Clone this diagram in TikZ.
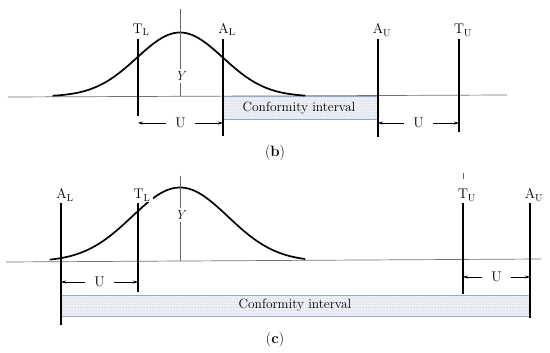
\documentclass[tikz,border=0pt]{standalone}
\usepackage{amsmath,amssymb}
\usepackage{tikz}
\usepackage[dvipsnames]{xcolor}
\usetikzlibrary{arrows.meta,patterns}

\begin{document}
\begin{tikzpicture}[x=1pt,y=-1pt,
  axisline/.style={draw=axisColor,line width=0.7pt},
  meanline/.style={draw=meanColor,line width=0.5pt},
  tolline/.style={draw=black,line width=1.1pt},
  accline/.style={draw=black,line width=1.8pt},
  bell/.style={draw=black,line width=1.7pt,line join=round,line cap=round},
  band/.style={draw=bandDraw,line width=0.6pt,fill=bandFill},
  bandtext/.style={font=\fontsize{13.4}{15}\selectfont},
  dimline/.style={draw=black,line width=0.5pt,{Stealth[length=5pt,width=3pt]}-{Stealth[length=5pt,width=3pt]}},
  lbl/.style={inner sep=0.5pt,anchor=base,font=\fontsize{14}{16}\selectfont},
  ulbl/.style={fill=white,inner xsep=9pt,inner ysep=1pt,font=\fontsize{14}{16}\selectfont},
  ylbl/.style={fill=white,inner sep=3pt,font=\fontsize{13}{15}\selectfont\itshape},
  tag/.style={font=\fontsize{15}{17}\selectfont}]
\definecolor{axisColor}{gray}{0.45}
\definecolor{meanColor}{gray}{0.40}
\definecolor{bandDraw}{RGB}{150,168,196}
\definecolor{bandFill}{RGB}{236,240,246}
\definecolor{bandDot}{RGB}{178,186,200}
\path[use as bounding box,fill=white] (0,0) rectangle (550,353);

% ---- panel (b)
\coordinate (axb w) at (8,97);
\coordinate (axb e) at (507,95);
\draw[axisline] (axb w) -- (axb e);

\path[band] (223,96) rectangle (378,119);
\path[pattern=dots,pattern color=bandDot] (223,96) rectangle (378,119);
\node[bandtext] (confb) at (299,108) {Conformity interval};

\draw[bell] plot[domain=-2.95:2.9,samples=80] ({180+43*\x},{96.5-64*exp(-0.5*\x*\x)});

\coordinate (meanb top) at (180,9);
\coordinate (meanb bot) at (180,96);
\draw[meanline] (meanb top) -- (meanb bot);
\node[ylbl] (yb) at (180,76) {Y};

\coordinate (tlb top) at (138,39);   \coordinate (tlb bot) at (138,116);
\coordinate (alb top) at (223,39);   \coordinate (alb bot) at (223,136);
\coordinate (aub top) at (378,39);   \coordinate (aub bot) at (378,137);
\coordinate (tub top) at (459,39);   \coordinate (tub bot) at (459,132);
\draw[tolline] (tlb top) -- (tlb bot);
\draw[accline] (alb top) -- (alb bot);
\draw[accline] (aub top) -- (aub bot);
\draw[tolline] (tub top) -- (tub bot);
\node[lbl] (tlb) at ([xshift=3pt,yshift=5.5pt]tlb top) {T$_\mathrm{L}$};
\node[lbl] (alb) at ([xshift=4pt,yshift=5.5pt]alb top) {A$_\mathrm{L}$};
\node[lbl] (aub) at ([xshift=4pt,yshift=5pt]aub top) {A$_\mathrm{U}$};
\node[lbl] (tub) at ([xshift=4pt,yshift=5pt]tub top) {T$_\mathrm{U}$};

\coordinate (ub1 w) at (138,123);  \coordinate (ub1 e) at (223,123);
\coordinate (ub2 w) at (378,123);  \coordinate (ub2 e) at (459,123);
\draw[dimline] (ub1 w) -- (ub1 e) node[ulbl,midway] (ub1) {U};
\draw[dimline] (ub2 w) -- (ub2 e) node[ulbl,midway] (ub2) {U};

\node[tag] (tagb) at (275,153) {(\textbf{b})};

% ---- panel (c)
\coordinate (axc w) at (6,262);
\coordinate (axc e) at (541,259);
\draw[axisline] (axc w) -- (axc e);

\path[band] (61,295) rectangle (529,316);
\path[pattern=dots,pattern color=bandDot] (61,295) rectangle (529,316);
\node[bandtext] (confc) at (295,305.5) {Conformity interval};

\draw[bell] plot[domain=-2.7:2.6,samples=80] ({180+48*\x},{261.5-74*exp(-0.5*\x*\x)});

\coordinate (meanc top) at (180,176);
\coordinate (meanc bot) at (180,261);
\draw[meanline] (meanc top) -- (meanc bot);
\node[ylbl] (yc) at (180,215) {Y};

\coordinate (alc top) at (61,203);   \coordinate (alc bot) at (61,325);
\coordinate (tlc top) at (138,203);  \coordinate (tlc bot) at (138,292);
\coordinate (tuc top) at (463,203);  \coordinate (tuc bot) at (463,294);
\coordinate (auc top) at (530,203);  \coordinate (auc bot) at (530,318);
\draw[accline] (alc top) -- (alc bot);
\draw[tolline] (tlc top) -- (tlc bot);
\draw[tolline] (tuc top) -- (tuc bot);
\draw[accline] (auc top) -- (auc bot);
\draw[meanline] (463,173) -- (463,179);
\node[lbl] (alc) at ([xshift=4pt,yshift=4pt]alc top) {A$_\mathrm{L}$};
\node[lbl,fill=white,inner xsep=3pt] (tlc) at ([xshift=4pt,yshift=4pt]tlc top) {T$_\mathrm{L}$};
\node[lbl] (tuc) at ([xshift=4pt,yshift=4pt]tuc top) {T$_\mathrm{U}$};
\node[lbl] (auc) at ([xshift=4pt,yshift=4pt]auc top) {A$_\mathrm{U}$};

\coordinate (uc1 w) at (61,282);   \coordinate (uc1 e) at (138,282);
\coordinate (uc2 w) at (463,277);  \coordinate (uc2 e) at (530,277);
\draw[dimline] (uc1 w) -- (uc1 e) node[ulbl,midway] (uc1) {U};
\draw[dimline] (uc2 w) -- (uc2 e) node[ulbl,midway] (uc2) {U};

\node[tag] (tagc) at (275,340) {(\textbf{c})};
\end{tikzpicture}
\end{document}
